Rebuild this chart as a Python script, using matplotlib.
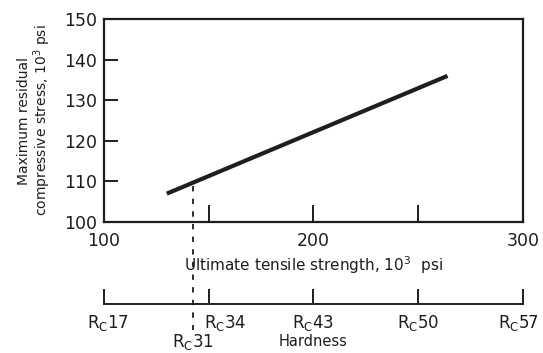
import numpy as np
import matplotlib
matplotlib.use('Agg')
import matplotlib.pyplot as plt
import matplotlib.transforms as mtransforms

# data
strength = [130, 264]          # ultimate tensile strength, 10^3 psi
stress = [107, 136]            # max residual compressive stress, 10^3 psi

y_ticks = [100, 110, 120, 130, 140, 150]
x_ticks = [100, 150, 200, 250, 300]
x_tick_labels = ['100', '', '200', '', '300']

hardness_pos = [100, 150, 200, 250, 300]
hardness_vals = ['17', '34', '43', '50', '57']
rc31_pos = 142.5

ink = '#1e1e1e'
plt.rcParams['font.family'] = ['DejaVu Sans']

fig = plt.figure(figsize=(5.43, 3.53), dpi=100)
ax = fig.add_axes([0.1915, 0.371, 0.7715, 0.575])

ax.plot(strength, stress, color=ink, lw=3.0, solid_capstyle='butt')

ax.set_xlim(100, 300)
ax.set_ylim(100, 150)
ax.set_yticks(y_ticks)
ax.set_xticks(x_ticks)
ax.set_xticklabels(x_tick_labels)
ax.tick_params(axis='y', direction='in', length=10, width=1.4, pad=5,
               labelsize=12.5, colors=ink)
ax.tick_params(axis='x', direction='in', length=12, width=1.4, pad=7,
               labelsize=12.5, colors=ink)
for s in ax.spines.values():
    s.set_linewidth(1.6)
    s.set_color(ink)

ax.set_ylabel('Maximum residual\ncompressive stress, 10$^3$ psi',
              fontsize=10, color=ink, linespacing=1.05, labelpad=8)
ax.set_xlabel('Ultimate tensile strength, 10$^3$  psi',
              fontsize=11, color=ink, labelpad=3)

# hardness scale below the plot
hx = fig.add_axes([0.1915, 0.139, 0.7715, 0.001])
hx.set_xlim(100, 300)
hx.set_ylim(0, 1)
for k in ['top', 'left', 'right']:
    hx.spines[k].set_visible(False)
hx.spines['bottom'].set_linewidth(1.4)
hx.spines['bottom'].set_color(ink)
hx.set_yticks([])
hx.set_xticks(hardness_pos)
hx.set_xticklabels([])
hx.tick_params(axis='x', direction='in', length=11, width=1.4, colors=ink)
hx.patch.set_visible(False)

trans = mtransforms.blended_transform_factory(hx.transData, fig.transFigure)
label_x = [102, 158, 200, 250, 298]
for xp, v in zip(label_x, hardness_vals):
    fig.text(xp, 0.085, r'R$_\mathrm{C}$' + v, transform=trans, ha='center',
             va='center', fontsize=12, color=ink)
fig.text(rc31_pos, 0.032, r'R$_\mathrm{C}$31', transform=trans, ha='center',
         va='center', fontsize=12, color=ink)
fig.text(200, 0.032, 'Hardness', transform=trans, ha='center', va='center',
         fontsize=10.5, color=ink)

# dashed marker line at Rc31
y_top = np.interp(rc31_pos, strength, stress)
dtrans = mtransforms.blended_transform_factory(ax.transData, fig.transFigure)
y_top_fig = fig.transFigure.inverted().transform(
    ax.transData.transform((rc31_pos, y_top - 0.8)))[1]
ax.plot([rc31_pos, rc31_pos], [y_top_fig, 0.065], transform=dtrans,
        color=ink, lw=1.3, ls=(0, (3, 4)), clip_on=False)

fig.savefig('out.png', dpi=100, facecolor='white')
